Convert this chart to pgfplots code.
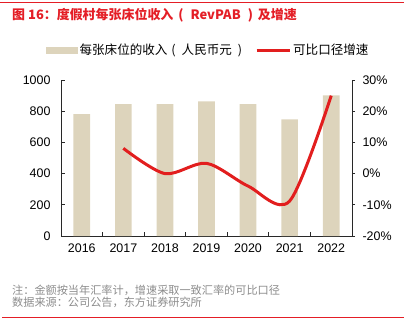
\documentclass[border=0pt]{standalone}
\usepackage{fontspec}
\setmainfont{Liberation Sans}
\newfontfamily\cjk{Noto Sans CJK SC}
\usepackage{pgfplots}
\pgfplotsset{compat=1.18}
\definecolor{barc}{RGB}{221,212,188}
\definecolor{linec}{RGB}{226,30,30}
\definecolor{titlec}{RGB}{228,30,38}
\definecolor{notec}{RGB}{140,140,140}
\definecolor{axc}{RGB}{40,40,40}
\begin{document}
\begin{tikzpicture}
\path[use as bounding box] (0bp,0bp) rectangle (404bp,-329bp);
\draw[titlec, line width=0.8bp] (0bp,-2.7bp) -- (404bp,-2.7bp);
\draw[titlec, line width=0.8bp] (2bp,-317.3bp) -- (404bp,-317.3bp);
\node[anchor=west, inner sep=0pt, text=titlec, font=\cjk\bfseries\fontsize{13}{15}\selectfont] at (12bp,-15bp) {图 16：度假村每张床位收入\hspace{5bp}(\hspace{7bp}RevPAB\hspace{7bp})\hspace{5bp}及增速};
\node[anchor=west, inner sep=0pt, text=notec, font=\cjk\fontsize{11.2}{13}\selectfont] at (12bp,-290.7bp) {注：金额按当年汇率计，增速采取一致汇率的可比口径};
\node[anchor=west, inner sep=0pt, text=notec, font=\cjk\fontsize{11.2}{13}\selectfont] at (12bp,-301.9bp) {数据来源：公司公告，东方证券研究所};

\begin{axis}[
  at={(61bp,-236bp)}, anchor=south west,
  scale only axis, width=291bp, height=156bp,
  xmin=-0.5, xmax=6.5, ymin=0, ymax=1000,
  axis x line*=bottom, axis y line*=left,
  axis line style={axc, line width=0.8bp},
  xtick={0,...,6},
  xticklabels={2016,2017,2018,2019,2020,2021,2022},
  minor xtick={0.5,1.5,...,5.5},
  major x tick style={draw=none},
  minor tick length=4bp,
  major tick length=4bp,
  tick align=inside,
  tick style={axc, line width=0.8bp},
  ytick={0,200,...,1000},
  /pgf/number format/assume math mode=true,
  /pgf/number format/1000 sep={},
  tick label style={font=\fontsize{12.5}{14}\selectfont},
  yticklabel style={xshift=-7bp},
  xticklabel style={yshift=-4bp},
]
\addplot[ybar, bar width=16.7bp, fill=barc, draw=none] coordinates {
  (0,782) (1,846) (2,846) (3,863) (4,846) (5,748) (6,902)
};
\end{axis}

\begin{axis}[
  at={(61bp,-236bp)}, anchor=south west,
  scale only axis, width=291bp, height=156bp,
  xmin=-0.5, xmax=6.5, ymin=-20, ymax=30,
  hide x axis,
  axis y line*=right,
  axis line style={axc, line width=0.8bp},
  ytick={-20,-10,...,30},
  yticklabel={\pgfmathprintnumber{\tick}\%},
  tick align=outside,
  major tick length=3bp,
  tick style={axc, line width=0.8bp},
  /pgf/number format/assume math mode=true,
  tick label style={font=\fontsize{12.5}{14}\selectfont},
  yticklabel style={xshift=4bp},
  legend style={draw=none, fill=none, inner sep=0pt, at={(-0.0515,1.192)}, anchor=west,
    font=\cjk\fontsize{12.6}{14}\selectfont,
    /tikz/every even column/.append style={column sep=11bp}},
  legend columns=2,
  legend cell align=left,
]
\addlegendimage{legend image code/.code={\fill[barc] (0bp,-3bp) rectangle (31bp,3bp);}}
\addlegendentry{每张床位的收入\hspace{4bp}(\hspace{6bp}人民币元\hspace{6bp})\hspace{3bp}}
\addplot[linec, line width=3bp, smooth, tension=0.5,
  legend image code/.code={\draw[linec, line width=3bp] (0bp,0bp) -- (33bp,0bp);}] coordinates {
  (1,8.1) (2,0) (3,3.3) (4,-4) (5,-8.8) (6,25)
};
\addlegendentry{可比口径增速}
\end{axis}
\end{tikzpicture}
\end{document}
